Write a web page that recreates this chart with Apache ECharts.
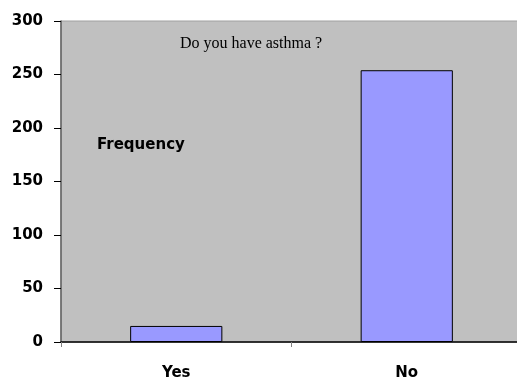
<!DOCTYPE html>
<html>
<head>
<meta charset="utf-8">
<script src="https://cdn.jsdelivr.net/npm/echarts@6/dist/echarts.min.js"></script>
<style>
  html, body { margin: 0; padding: 0; background: #ffffff; }
  #chart { width: 517px; height: 381px; }
</style>
</head>
<body>
<div id="chart"></div>
<script>
// Survey answers to the asthma question
const categories = ['Yes', 'No'];
const frequency = [15, 254];
const yTicks = [0, 50, 100, 150, 200, 250, 300];

const chart = echarts.init(document.getElementById('chart'));
chart.setOption({
  animation: false,
  backgroundColor: '#ffffff',
  title: [
    {
      text: 'Do you have asthma ?',
      left: 175, top: 31,
      textStyle: { fontFamily: 'Liberation Serif', fontSize: 16, fontWeight: 'normal', color: '#000000' }
    },
    {
      text: 'Frequency',
      left: 92, top: 133,
      textStyle: { fontFamily: 'DejaVu Sans', fontSize: 15, fontWeight: 'bold', color: '#000000' }
    }
  ],
  grid: {
    left: 61, top: 21, width: 461, height: 321,
    outerBoundsMode: 'none',
    show: true, backgroundColor: '#c0c0c0', borderColor: '#a0a0a0', borderWidth: 1
  },
  xAxis: {
    type: 'category',
    data: categories,
    axisLine: { lineStyle: { color: '#000000', width: 1.5 } },
    axisTick: { show: true, length: 5, lineStyle: { color: '#808080' } },
    axisLabel: { margin: 24, fontFamily: 'DejaVu Sans', fontSize: 15, fontWeight: 'bold', color: '#000000' },
    splitLine: { show: false }
  },
  yAxis: {
    type: 'value',
    min: yTicks[0], max: yTicks[yTicks.length - 1], interval: 50,
    axisLine: { show: true, lineStyle: { color: '#606060', width: 1.5 } },
    axisTick: { show: true, length: 7, lineStyle: { color: '#000000' } },
    axisLabel: { margin: 18, fontFamily: 'DejaVu Sans', fontSize: 15, fontWeight: 'bold', color: '#000000' },
    splitLine: { show: false }
  },
  series: [{
    type: 'bar',
    data: frequency,
    barWidth: '40%',
    itemStyle: { color: '#9999ff', borderColor: '#000000', borderWidth: 1 }
  }]
});
</script>
</body>
</html>
